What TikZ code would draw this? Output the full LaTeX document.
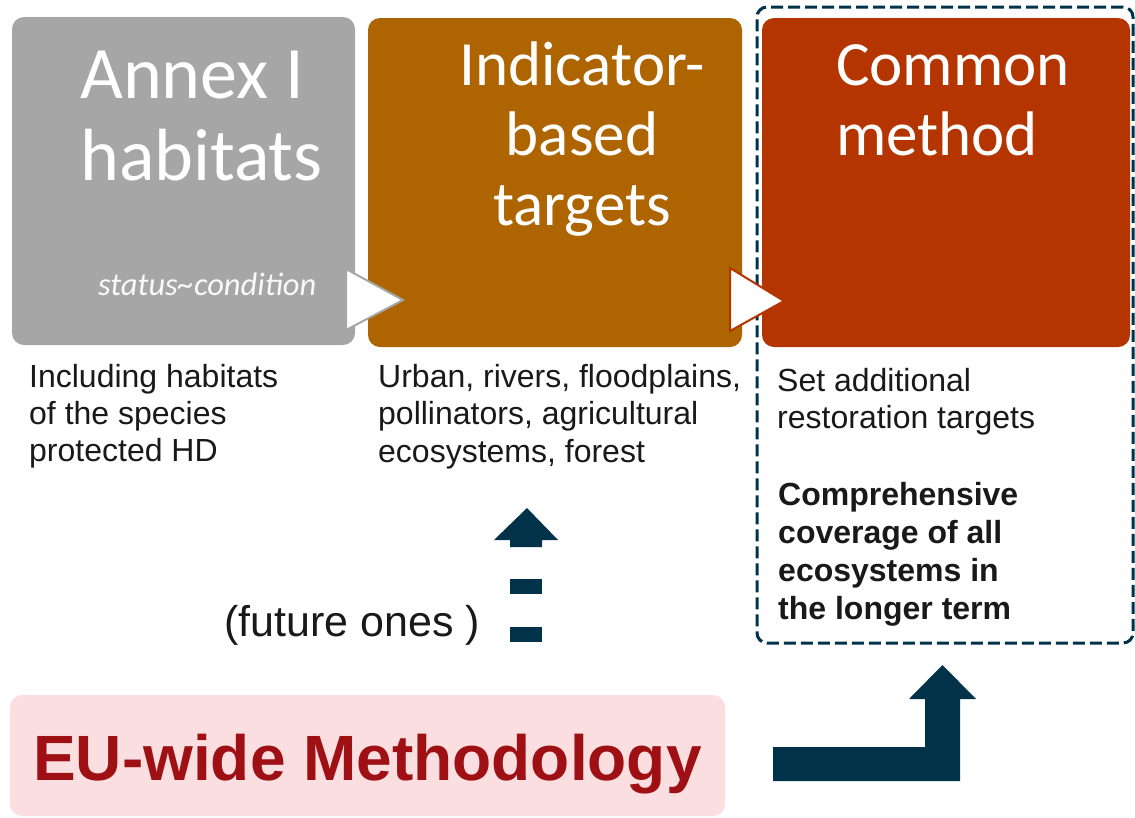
\documentclass[tikz,border=0pt]{standalone}
\usepackage{fontspec}
\setmainfont{Liberation Sans}
\newfontfamily\titlefont{Carlito}
\definecolor{annexgray}{HTML}{A6A6A6}
\definecolor{indbrown}{HTML}{AE6400}
\definecolor{comred}{HTML}{B43500}
\definecolor{navy}{HTML}{003249}
\definecolor{pinkbg}{HTML}{FADEE0}
\definecolor{eured}{HTML}{9E1014}
\tikzset{
  box/.style={rounded corners=12pt, inner sep=0pt, draw=none},
  body/.style={anchor=base west, inner sep=0pt, font=\fontsize{32}{37}\selectfont, text=black!90},
  bodyb/.style={body, font=\fontsize{32}{37}\selectfont\bfseries},
  ttl/.style={inner sep=0pt, text=white, font=\titlefont\fontsize{63}{70}\selectfont},
  tri/.style={fill=white, line width=2pt, line join=miter},
  navyshape/.style={fill=navy, draw=none}
}
\begin{document}
\begin{tikzpicture}[x=1pt,y=-1pt]
\useasboundingbox (0,0) rectangle (1135,817);
% boxes
\node[box, draw=navy, line width=3pt, dash pattern=on 12pt off 5pt, rounded corners=10pt, minimum width=376pt, minimum height=636pt] (dash) at (945,325) {};
\node[box, fill=annexgray, minimum width=343pt, minimum height=328pt] (annex) at (183.5,181) {};
\node[box, fill=indbrown, minimum width=374pt, minimum height=329pt] (ind) at (555,182.5) {};
\node[box, fill=comred, minimum width=368pt, minimum height=329pt] (com) at (946,182.5) {};
\node[box, fill=pinkbg, minimum width=715pt, minimum height=121pt] (eu) at (367.5,755.5) {};
% titles
\node[ttl, anchor=base west, font=\titlefont\fontsize{74}{82}\selectfont] (a1) at (80,98) {Annex I};
\node[ttl, anchor=base west, font=\titlefont\fontsize{74}{82}\selectfont] (a2) at (80,180) {habitats};
\node[ttl, anchor=base west, font=\titlefont\itshape\fontsize{32.5}{36}\selectfont, text=white!95!gray] (a3) at (98,295) {status\textasciitilde condition};
\node[ttl, anchor=base] (i1) at (582,85) {Indicator-};
\node[ttl, anchor=base] (i2) at (582,155) {based};
\node[ttl, anchor=base] (i3) at (582,225) {targets};
\node[ttl, anchor=base west] (c1) at (836,85) {Common};
\node[ttl, anchor=base west] (c2) at (836,155) {method};
% triangles
\draw[tri, draw=annexgray] (346,269) -- (403,300) -- (346,330) -- cycle;
\draw[tri, draw=comred] (730,268) -- (784,301) -- (730,331) -- cycle;
% body text
\node[body] (l1) at (29,387) {Including habitats};
\node[body] (l2) at (29,424) {of the species};
\node[body] (l3) at (29,461.5) {protected HD};
\node[body] (m1) at (378,387) {Urban, rivers, floodplains,};
\node[body] (m2) at (378,424.5) {pollinators, agricultural};
\node[body] (m3) at (378,462) {ecosystems, forest};
\node[body] (r1) at (777,391) {Set additional};
\node[body] (r2) at (777,428) {restoration targets};
\node[bodyb] (r3) at (778,505) {Comprehensive};
\node[bodyb] (r4) at (778,543) {coverage of all};
\node[bodyb] (r5) at (778,581) {ecosystems in};
\node[bodyb] (r6) at (778,619) {the longer term};
\node[body, font=\fontsize{43}{48}\selectfont] (fut) at (224,636) {(future ones )};
\node[anchor=base west, inner sep=0pt, text=eured, font=\fontsize{64}{72}\selectfont\bfseries] (eut) at (33,780) {EU-wide Methodology};
% dashed up arrow
\fill[navyshape] (494,540) -- (527,508) -- (558,540) -- (542,540) -- (542,547) -- (510,547) -- (510,540) -- cycle;
\fill[navyshape] (510,579) rectangle (542,594);
\fill[navyshape] (510,627) rectangle (542,642);
% bent arrow
\fill[navyshape] (773,747) -- (925,747) -- (925,699) -- (909,699) -- (942.5,665) -- (976,699) -- (960,699) -- (960,781) -- (773,781) -- cycle;
\end{tikzpicture}
\end{document}
